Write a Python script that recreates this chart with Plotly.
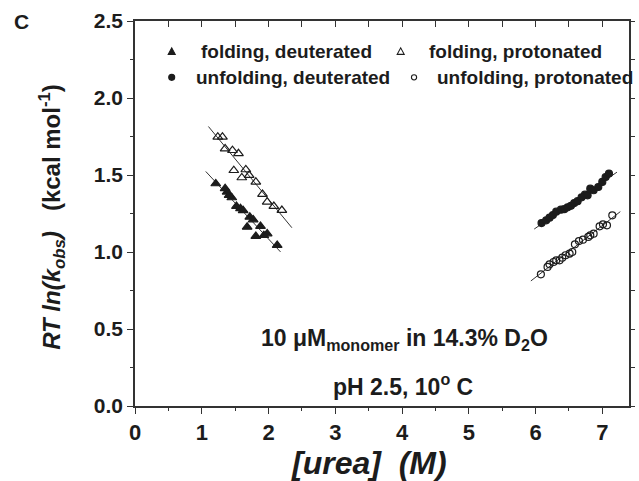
import numpy as np
import plotly.graph_objects as go

# ---- data ----
fold_deut_x = [1.21, 1.35, 1.38, 1.41, 1.45, 1.52, 1.58, 1.72, 1.68, 1.88, 1.81, 1.93, 1.98, 2.13, 1.62, 1.77]
fold_deut_y = [1.444, 1.412, 1.390, 1.368, 1.353, 1.297, 1.282, 1.227, 1.162, 1.167, 1.102, 1.108, 1.119, 1.044, 1.270, 1.210]
fold_prot_x = [1.24, 1.31, 1.35, 1.46, 1.55, 1.48, 1.66, 1.71, 1.60, 1.81, 1.91, 1.98, 2.08, 2.20]
fold_prot_y = [1.747, 1.747, 1.671, 1.660, 1.639, 1.530, 1.535, 1.498, 1.483, 1.455, 1.375, 1.325, 1.297, 1.271]
unf_deut_x = [6.09, 6.16, 6.21, 6.26, 6.31, 6.38, 6.43, 6.48, 6.53, 6.58, 6.63, 6.69, 6.74, 6.78,
              6.82, 6.87, 6.94, 7.00, 7.05, 7.10]
unf_deut_y = [1.188, 1.206, 1.223, 1.240, 1.262, 1.275, 1.278, 1.290, 1.300, 1.318, 1.330, 1.355, 1.372, 1.368,
              1.411, 1.401, 1.422, 1.455, 1.487, 1.509]
unf_prot_x = [6.08, 6.18, 6.21, 6.27, 6.31, 6.36, 6.40, 6.45, 6.51, 6.55, 6.59, 6.65, 6.71, 6.79,
              6.82, 6.87, 6.96, 7.01, 7.07, 7.15]
unf_prot_y = [0.855, 0.903, 0.920, 0.935, 0.946, 0.946, 0.963, 0.979, 0.990, 1.000, 1.050, 1.071, 1.080, 1.098,
              1.108, 1.119, 1.167, 1.180, 1.173, 1.238]

# extent of the fitted lines
fit_ranges = {
    "fold_deut": (1.06, 2.18),
    "fold_prot": (1.10, 2.35),
    "unf_deut": (5.98, 7.22),
    "unf_prot": (5.93, 7.27),
}

legend_labels = ["folding, deuterated", "folding, protonated",
                 "unfolding, deuterated", "unfolding, protonated"]

x_ticks = [0, 1, 2, 3, 4, 5, 6, 7]
y_ticks = [0.0, 0.5, 1.0, 1.5, 2.0, 2.5]

FONT = "Liberation Sans, Arial, sans-serif"
INK = "#1c1c1c"

fig = go.Figure()

def fit_line(xs, ys, rng):
    m, b = np.polyfit(xs, ys, 1)
    lx = np.array(rng)
    return lx, m * lx + b

series = [
    ("fold_deut", fold_deut_x, fold_deut_y, "triangle-up"),
    ("fold_prot", fold_prot_x, fold_prot_y, "triangle-up-open"),
    ("unf_deut", unf_deut_x, unf_deut_y, "circle"),
    ("unf_prot", unf_prot_x, unf_prot_y, "circle-open"),
]

for key, xs, ys, sym in series:
    lx, ly = fit_line(xs, ys, fit_ranges[key])
    fig.add_trace(go.Scatter(x=lx, y=ly, mode="lines",
                             line=dict(color="#333333", width=1), showlegend=False,
                             hoverinfo="skip"))
for key, xs, ys, sym in series:
    fig.add_trace(go.Scatter(x=xs, y=ys, mode="markers", showlegend=False,
                             marker=dict(symbol=sym, size=8.5 if "triangle" in sym else 7,
                                         color=INK, line=dict(color=INK, width=1.2))))

# dummy trace for top/right tick axes
fig.add_trace(go.Scatter(x=[], y=[], xaxis="x2", yaxis="y2", showlegend=False))

XR = [0, 7.4]
YR = [0, 2.5]

fig.update_layout(
    width=639, height=481,
    margin=dict(l=135, r=5, t=21, b=75),
    paper_bgcolor="white", plot_bgcolor="white",
    font=dict(family=FONT, color=INK),
    xaxis=dict(range=XR, tickvals=x_ticks, ticks="outside", ticklen=6, tickwidth=1.3,
               tickcolor="#333", showline=True, linecolor="#333", linewidth=1.5,
               mirror=True, showgrid=False, zeroline=False,
               tickfont=dict(size=22, family=FONT, weight="bold"),
               minor=dict(dtick=0.5, ticks="outside", ticklen=3, tickwidth=1.2, tickcolor="#333")),
    yaxis=dict(range=YR, tickvals=y_ticks, ticktext=[f"{v:.1f}" for v in y_ticks],
               ticks="outside", ticklen=6, tickwidth=1.3,
               tickcolor="#333", showline=True, linecolor="#333", linewidth=1.5,
               mirror=True, showgrid=False, zeroline=False,
               tickfont=dict(size=21, family=FONT, weight="bold"),
               minor=dict(dtick=0.25, ticks="outside", ticklen=3, tickwidth=1.2, tickcolor="#333")),
    xaxis2=dict(range=XR, overlaying="x", side="top", anchor="y2", dtick=0.5, tick0=0,
                ticks="inside", ticklen=6, tickwidth=1.2, tickcolor="#333",
                showticklabels=False, showgrid=False, zeroline=False, showline=False),
    yaxis2=dict(range=YR, overlaying="y", side="right", anchor="x2", dtick=0.25, tick0=0,
                ticks="outside", ticklen=5, tickwidth=1.2, tickcolor="#333",
                showticklabels=False, showgrid=False, zeroline=False, showline=False),
)

ann = []
shapes = []
# panel label
ann.append(dict(text="C", xref="paper", yref="paper", x=-0.248, y=1.0, xanchor="left",
                yanchor="middle", showarrow=False, font=dict(size=21, family=FONT, weight=600)))
# axis titles
ann.append(dict(text="<b><i>[urea]</i>  <i>(M)</i></b>", xref="paper", yref="paper",
                x=0.473, y=-0.148, xanchor="center", yanchor="middle", showarrow=False,
                font=dict(size=32, family=FONT)))
ann.append(dict(text="<b><i>RT ln(k<sub>obs</sub>)</i>   (kcal mol<sup>-1</sup>)</b>",
                xref="paper", yref="paper", x=-0.167, y=0.49, textangle=-90,
                xanchor="center", yanchor="middle", showarrow=False,
                font=dict(size=24, family=FONT)))

# legend (marker shapes in pixel size + text)
leg_pos = [  # (marker x, row y, text x, kind)
    (0.55, 2.303, 0.965, "tri_f"),
    (3.98, 2.303, 4.38, "tri_o"),
    (0.55, 2.134, 0.89, "cir_f"),
    (4.18, 2.134, 4.50, "cir_o"),
]
for (mx, yy, tx, kind), txt in zip(leg_pos, legend_labels):
    common = dict(xref="x", yref="y", xsizemode="pixel", ysizemode="pixel",
                  xanchor=mx, yanchor=yy, line=dict(color=INK, width=1.1))
    if kind.startswith("tri"):
        shapes.append(dict(type="path", path="M-3.5,-3 L3.5,-3 L0,3.5 Z",
                           fillcolor=INK if kind == "tri_f" else "white", **common))
    else:
        r = 3 if kind == "cir_f" else 2.6
        shapes.append(dict(type="circle", x0=-r, x1=r, y0=-r, y1=r,
                           fillcolor=INK if kind == "cir_f" else "white", **common))
    ann.append(dict(text=f"<b>{txt}</b>", x=tx, y=yy, xref="x", yref="y", xanchor="left",
                    yanchor="middle", showarrow=False, font=dict(size=19, family=FONT)))

# condition text
ann.append(dict(text="<b>10 μM<sub>monomer</sub> in 14.3% D<sub>2</sub>O</b>", x=1.86, y=0.43,
                xref="x", yref="y", xanchor="left", yanchor="middle", showarrow=False,
                font=dict(size=23, family=FONT)))
ann.append(dict(text="<b>pH 2.5, 10<sup>o</sup> C</b>", x=2.94, y=0.135,
                xref="x", yref="y", xanchor="left", yanchor="middle", showarrow=False,
                font=dict(size=23, family=FONT)))
fig.update_layout(annotations=ann, shapes=shapes)

fig.write_html("out.html")
